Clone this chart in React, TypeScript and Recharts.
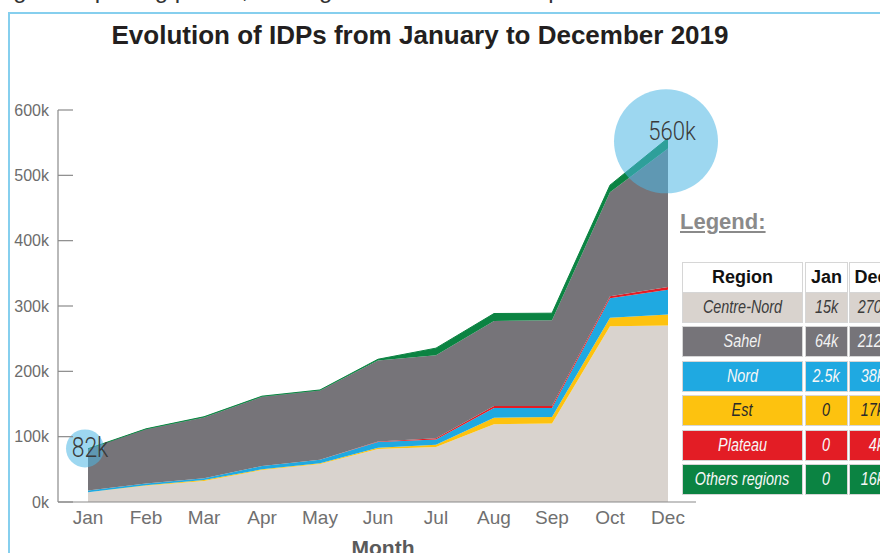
import React from 'react';
import { AreaChart, Area, XAxis, YAxis, ReferenceDot } from 'recharts';

const months = ['Jan', 'Feb', 'Mar', 'Apr', 'May', 'Jun', 'Jul', 'Aug', 'Sep', 'Oct', 'Dec'];
const centreNord = [15000, 25000, 32000, 49000, 58000, 81000, 84000, 119000, 120000, 269000, 270000];
const est = [0, 500, 1500, 1000, 1500, 2000, 3500, 10000, 10000, 13000, 17000];
const nord = [2500, 3000, 3000, 5000, 5000, 9000, 8000, 15000, 14000, 30000, 38000];
const plateau = [0, 0, 0, 0, 0, 500, 2000, 3000, 3000, 3000, 4000];
const sahel = [64000, 83000, 93000, 106000, 106000, 124000, 127000, 130000, 131000, 159000, 212000];
const others = [0, 500, 1000, 1000, 1000, 2000, 11000, 11500, 11000, 11000, 16000];
const yTicks = [0, 100000, 200000, 300000, 400000, 500000, 600000];

const legendRegions = ['Centre-Nord', 'Sahel', 'Nord', 'Est', 'Plateau', 'Others regions'];
const legendJan = ['15k', '64k', '2.5k', '0', '0', '0'];
const legendDec = ['270k', '212k', '38k', '17k', '4k', '16k'];

const COLORS: { [k: string]: string } = {
  'Centre-Nord': '#d9d3ce',
  Sahel: '#767479',
  Nord: '#1fa9e1',
  Est: '#fdc20f',
  Plateau: '#e31d25',
  'Others regions': '#0b8342',
};
const TEXT_COLORS: { [k: string]: string } = {
  'Centre-Nord': '#3c3c3c',
  Sahel: '#f2f2f2',
  Nord: '#f7f7f7',
  Est: '#2a2a2a',
  Plateau: '#f7f7f7',
  'Others regions': '#f7f7f7',
};

// stacking order, bottom to top
const series = [
  { key: 'centreNord', name: 'Centre-Nord', values: centreNord },
  { key: 'est', name: 'Est', values: est },
  { key: 'nord', name: 'Nord', values: nord },
  { key: 'plateau', name: 'Plateau', values: plateau },
  { key: 'sahel', name: 'Sahel', values: sahel },
  { key: 'others', name: 'Others regions', values: others },
];

const data = months.map((m, i) => {
  const row: { [k: string]: string | number } = { month: m };
  series.forEach(s => { row[s.key] = s.values[i]; });
  return row;
});

const FONT = "'Liberation Sans', Arial, sans-serif";

const YTick = (props: any) => {
  const { x, y, payload } = props;
  return (
    <g>
      <line x1={x} x2={x + 15} y1={y} y2={y} stroke="#8a8a8a" strokeWidth={1.2} />
      <text x={x - 9} y={y} dy={5.5} textAnchor="end" fontSize={16} fill="#6c6c6c" fontFamily={FONT}>
        {payload.value / 1000}k
      </text>
    </g>
  );
};

const bubble = (dx: number) => (props: any) => (
  <circle cx={props.cx + dx} cy={props.cy} r={props.r} fill="rgba(76,183,227,0.55)" stroke="none" />
);

const bubbleLabel = (text: string, dx: number, dy: number, size: number) => (props: any) => {
  const vb = props.viewBox;
  const cx = vb.x + vb.width / 2 + dx;
  const cy = vb.y + vb.height / 2 + dy;
  return (
    <text
      transform={`translate(${cx},${cy}) scale(0.85,1)`}
      textAnchor="middle"
      fontSize={size}
      fontWeight={300}
      fontFamily="Roboto, sans-serif"
      fill="#3a3a3a"
    >
      {text}
    </text>
  );
};

const MonthLabel = (props: any) => {
  const vb = props.viewBox;
  return (
    <text x={vb.x + vb.width / 2 + 6} y={555} textAnchor="middle" fontSize={21} fontWeight="bold" fill="#5a5a5a" fontFamily={FONT}>
      Month
    </text>
  );
};

const cellBase: React.CSSProperties = {
  position: 'absolute',
  height: 29,
  lineHeight: '29px',
  boxSizing: 'border-box',
  boxShadow: '0 0 0 1px #d6d6d6',
  fontFamily: FONT,
  overflow: 'hidden',
  whiteSpace: 'nowrap',
};

const Narrow = ({ children, origin }: { children: React.ReactNode; origin: string }) => (
  <span style={{ display: 'inline-block', transform: 'scaleX(0.8)', transformOrigin: origin }}>{children}</span>
);

export default function App() {
  const rowTop = (i: number) => 293 + i * 34.4;
  return (
    <div style={{ position: 'fixed', left: 0, top: 0, width: 880, height: 553, overflow: 'hidden', background: '#fff' }}>
      <div
        style={{
          position: 'absolute', left: -40, top: -22, fontSize: 24, lineHeight: '24px',
          fontFamily: FONT, color: '#333', whiteSpace: 'nowrap',
        }}
      >
        during the reporting period, leading to new waves of displacements
      </div>
      <div
        style={{
          position: 'absolute', left: 8, top: 12, width: 900, height: 600,
          borderLeft: '2px solid #86cfee', borderTop: '2px solid #86cfee',
        }}
      />
      <div style={{ position: 'absolute', left: 0, top: 0 }}>
        <AreaChart width={880} height={553} data={data} margin={{ top: 110, right: 184, bottom: 0, left: 0 }}>
          <XAxis
            dataKey="month"
            height={51}
            padding={{ left: 30, right: 28 }}
            tickLine={false}
            tickSize={0}
            tickMargin={9}
            axisLine={{ stroke: '#8a8a8a', strokeWidth: 1.2 }}
            tick={{ fontSize: 19, fill: '#707070', fontFamily: FONT }}
            interval={0}
            label={<MonthLabel />}
          />
          <YAxis
            width={58}
            domain={[0, 600000]}
            ticks={yTicks}
            tickLine={false}
            tickSize={0}
            tickMargin={0}
            axisLine={{ stroke: '#8a8a8a', strokeWidth: 1.2 }}
            tick={<YTick />}
          />
          {series.map(s => (
            <Area
              key={s.key}
              type="linear"
              dataKey={s.key}
              name={s.name}
              stackId="1"
              fill={COLORS[s.name]}
              fillOpacity={1}
              stroke={s.key === 'others' ? COLORS[s.name] : 'none'}
              strokeWidth={1}
              isAnimationActive={false}
            />
          ))}
          <ReferenceDot
            x="Jan"
            y={82000}
            r={19}
            shape={bubble(-3)}
            label={{ content: bubbleLabel('82k', 2, 9, 27) }}
          />
          <ReferenceDot
            x="Dec"
            y={552000}
            r={52}
            shape={bubble(-2)}
            label={{ content: bubbleLabel('560k', 4, -1, 26) }}
          />
        </AreaChart>
      </div>

      <div
        style={{
          position: 'absolute', left: 0, top: 20, width: 840, textAlign: 'center',
          fontFamily: FONT, fontWeight: 'bold', fontSize: 26, lineHeight: '30px', color: '#231f20',
        }}
      >
        Evolution of IDPs from January to December 2019
      </div>

      <div
        style={{
          position: 'absolute', left: 680, top: 209, fontFamily: FONT, fontWeight: 'bold',
          fontSize: 22, lineHeight: '26px', color: '#8a8a8a', textDecoration: 'underline',
        }}
      >
        Legend:
      </div>

      {/* header row */}
      <div style={{ ...cellBase, left: 683, top: 263, width: 119, background: '#fff', textAlign: 'center', fontWeight: 'bold', fontSize: 18, color: '#111' }}>
        Region
      </div>
      <div style={{ ...cellBase, left: 806, top: 263, width: 41, background: '#fff', textAlign: 'center', fontWeight: 'bold', fontSize: 18, color: '#111' }}>
        Jan
      </div>
      <div style={{ ...cellBase, left: 850, top: 263, width: 42, background: '#fff', textAlign: 'center', fontWeight: 'bold', fontSize: 18, color: '#111' }}>
        Dec
      </div>

      {legendRegions.map((r, i) => {
        const common: React.CSSProperties = {
          ...cellBase,
          top: rowTop(i),
          background: COLORS[r],
          color: TEXT_COLORS[r],
          fontStyle: 'italic',
          fontSize: 18,
        };
        return (
          <React.Fragment key={r}>
            <div style={{ ...common, left: 683, width: 119, textAlign: 'center' }}>
              <Narrow origin="center">{r}</Narrow>
            </div>
            <div style={{ ...common, left: 806, width: 41, textAlign: 'center' }}>
              <Narrow origin="center">{legendJan[i]}</Narrow>
            </div>
            <div style={{ ...common, left: 850, width: 42, textAlign: 'right', paddingRight: 8 }}>
              <Narrow origin="right">{legendDec[i]}</Narrow>
            </div>
          </React.Fragment>
        );
      })}
    </div>
  );
}
